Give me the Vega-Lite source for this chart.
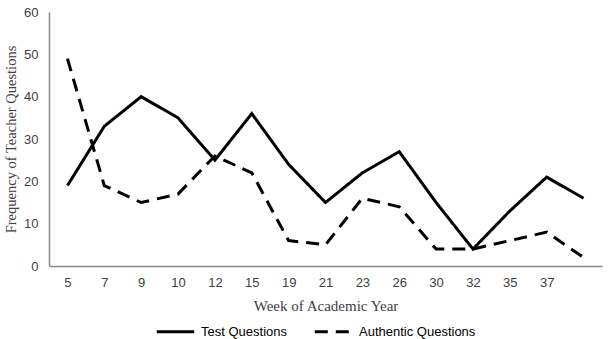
{
  "$schema": "https://vega.github.io/schema/vega-lite/v6.json",
  "autosize": {"type": "none"},
  "width": 553,
  "height": 254,
  "padding": {"left": 49, "top": 12, "right": 7, "bottom": 73},
  "background": "white",
  "config": {"view": {"stroke": null}},
  "data": {
    "values": [
      {"i": 1, "week": "5", "series": "Test Questions", "v": 19},
      {"i": 2, "week": "7", "series": "Test Questions", "v": 33},
      {"i": 3, "week": "9", "series": "Test Questions", "v": 40},
      {"i": 4, "week": "10", "series": "Test Questions", "v": 35},
      {"i": 5, "week": "12", "series": "Test Questions", "v": 25},
      {"i": 6, "week": "15", "series": "Test Questions", "v": 36},
      {"i": 7, "week": "19", "series": "Test Questions", "v": 24},
      {"i": 8, "week": "21", "series": "Test Questions", "v": 15},
      {"i": 9, "week": "23", "series": "Test Questions", "v": 22},
      {"i": 10, "week": "26", "series": "Test Questions", "v": 27},
      {"i": 11, "week": "30", "series": "Test Questions", "v": 15},
      {"i": 12, "week": "32", "series": "Test Questions", "v": 4},
      {"i": 13, "week": "35", "series": "Test Questions", "v": 13},
      {"i": 14, "week": "37", "series": "Test Questions", "v": 21},
      {"i": 15, "week": " ", "series": "Test Questions", "v": 16},
      {"i": 1, "week": "5", "series": "Authentic Questions", "v": 49},
      {"i": 2, "week": "7", "series": "Authentic Questions", "v": 19},
      {"i": 3, "week": "9", "series": "Authentic Questions", "v": 15},
      {"i": 4, "week": "10", "series": "Authentic Questions", "v": 17},
      {"i": 5, "week": "12", "series": "Authentic Questions", "v": 26},
      {"i": 6, "week": "15", "series": "Authentic Questions", "v": 22},
      {"i": 7, "week": "19", "series": "Authentic Questions", "v": 6},
      {"i": 8, "week": "21", "series": "Authentic Questions", "v": 5},
      {"i": 9, "week": "23", "series": "Authentic Questions", "v": 16},
      {"i": 10, "week": "26", "series": "Authentic Questions", "v": 14},
      {"i": 11, "week": "30", "series": "Authentic Questions", "v": 4},
      {"i": 12, "week": "32", "series": "Authentic Questions", "v": 4},
      {"i": 13, "week": "35", "series": "Authentic Questions", "v": 6},
      {"i": 14, "week": "37", "series": "Authentic Questions", "v": 8},
      {"i": 15, "week": " ", "series": "Authentic Questions", "v": 2}
    ]
  },
  "mark": {"type": "line", "color": "black", "strokeWidth": 3},
  "encoding": {
    "x": {
      "field": "week",
      "type": "ordinal",
      "sort": {"field": "i"},
      "scale": {"type": "point", "padding": 0.5},
      "axis": {
        "title": "Week of Academic Year",
        "titleFont": "Liberation Serif",
        "titleFontSize": 15,
        "titleFontWeight": "normal",
        "titleColor": "#404040",
        "titlePadding": 9,
        "labelFont": "Liberation Sans",
        "labelFontSize": 13,
        "labelColor": "#404040",
        "labelAngle": 0,
        "labelPadding": 10,
        "ticks": false,
        "domainColor": "#888888",
        "domainWidth": 1.5,
        "grid": false
      }
    },
    "y": {
      "field": "v",
      "type": "quantitative",
      "scale": {"domain": [0, 60]},
      "axis": {
        "title": "Frequency of Teacher  Questions",
        "titleFont": "Liberation Serif",
        "titleFontSize": 14.5,
        "titleFontWeight": "normal",
        "titleColor": "#404040",
        "titlePadding": 5,
        "values": [0, 10, 20, 30, 40, 50, 60],
        "labelFont": "Liberation Sans",
        "labelFontSize": 13,
        "labelColor": "#404040",
        "labelPadding": 11,
        "ticks": false,
        "domainColor": "#888888",
        "domainWidth": 1.5,
        "grid": false
      }
    },
    "strokeDash": {
      "field": "series",
      "type": "nominal",
      "scale": {
        "domain": ["Test Questions", "Authentic Questions"],
        "range": [[1, 0], [13, 8]]
      },
      "legend": {
        "title": null,
        "orient": "none",
        "direction": "horizontal",
        "legendX": 106,
        "legendY": 299,
        "symbolType": "stroke",
        "symbolSize": 1400,
        "symbolStrokeWidth": 3,
        "symbolStrokeColor": "black",
        "labelFont": "Liberation Sans",
        "labelFontSize": 13,
        "labelColor": "#000000",
        "labelOffset": 5,
        "columnPadding": 21
      }
    }
  }
}
